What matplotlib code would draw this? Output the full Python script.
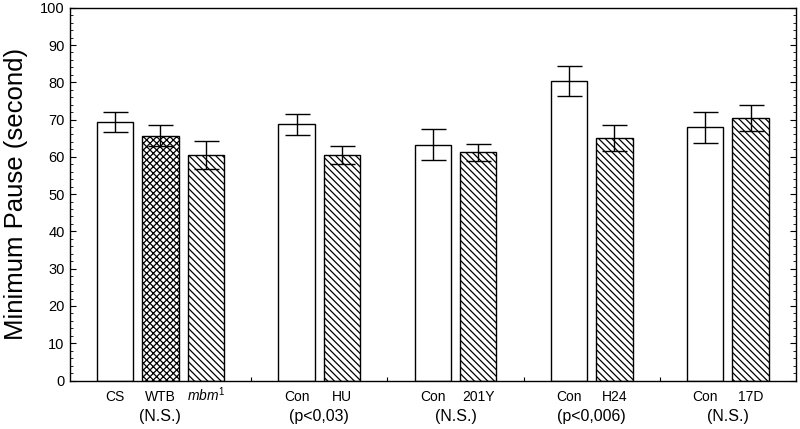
import matplotlib.pyplot as plt
import numpy as np
from matplotlib.ticker import MultipleLocator

plt.rcParams['font.family'] = ['Liberation Sans', 'DejaVu Sans']
plt.rcParams['mathtext.fontset'] = 'custom'
plt.rcParams['mathtext.rm'] = 'Liberation Sans'
plt.rcParams['mathtext.it'] = 'Liberation Sans:italic'
plt.rcParams['hatch.linewidth'] = 0.9

# slot positions (gaps between groups)
positions = [0, 1, 2, 4, 5, 7, 8, 10, 11, 13, 14]
labels = ['CS', 'WTB', r'$\mathit{mbm}^{\mathrm{1}}$', 'Con', 'HU', 'Con', '201Y',
          'Con', 'H24', 'Con', '17D']
means = [69.3, 65.7, 60.5, 68.7, 60.5, 63.3, 61.2, 80.4, 65.0, 67.9, 70.4]
errors = [2.7, 2.8, 3.7, 2.8, 2.5, 4.2, 2.3, 4.0, 3.5, 4.1, 3.5]
hatches = ['', 'xxxxx', '\\\\\\\\\\', '', '\\\\\\\\\\', '', '\\\\\\\\\\',
           '', '\\\\\\\\\\', '', '\\\\\\\\\\']

group_pos = [1, 4.5, 7.5, 10.5, 13.5]
group_labels = ['(N.S.)', '(p<0,03)', '(N.S.)', '(p<0,006)', '(N.S.)']

fig, ax = plt.subplots(figsize=(8, 4.29), dpi=100)
fig.subplots_adjust(left=0.087, right=0.995, top=0.982, bottom=0.113)

ax.bar(positions, means, width=0.8, color='white', edgecolor='black',
       linewidth=1.0, hatch=hatches, zorder=2)
ax.errorbar(positions, means, yerr=errors, fmt='none', ecolor='black',
            elinewidth=1.0, capsize=9, capthick=1.0, zorder=3)

ax.set_xlim(-1, 15)
ax.set_ylim(0, 100)
ax.yaxis.set_major_locator(MultipleLocator(10))
ax.yaxis.set_minor_locator(MultipleLocator(2))
ax.set_xticks(range(0, 15))
ax.set_xticklabels([])
ax.tick_params(axis='both', direction='in', length=4, width=0.8,
               right=True, labelsize=10.5)
ax.tick_params(axis='x', length=3)
ax.tick_params(axis='y', which='minor', direction='in', length=2,
               width=0.6, right=True)

for x, lab in zip(positions, labels):
    ax.text(x, -5.4, lab, ha='center', va='baseline', fontsize=10)
for x, lab in zip(group_pos, group_labels):
    ax.text(x, -10.8, lab, ha='center', va='baseline', fontsize=11.5)

ax.set_ylabel('Minimum Pause (second)', fontsize=18.5)
ax.yaxis.set_label_coords(-0.057, 0.5)
for s in ax.spines.values():
    s.set_linewidth(1.0)

fig.savefig('out.png', dpi=100)
